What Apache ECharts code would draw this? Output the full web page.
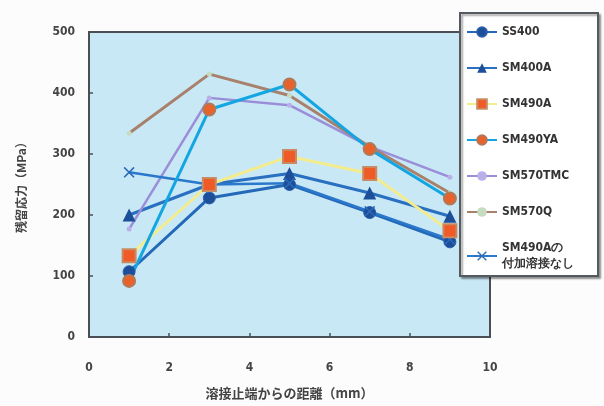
<!DOCTYPE html>
<html><head><meta charset="utf-8">
<script src="https://cdn.jsdelivr.net/npm/echarts@6/dist/echarts.min.js"></script>
<style>html,body{margin:0;padding:0;background:#fcfcfc}#c{width:604px;height:406px}</style>
</head><body><div id="c"></div>
<script>
const xValues = [1, 3, 5, 7, 9];
const xTicks = [0, 2, 4, 6, 8, 10];
const yTicks = [0, 100, 200, 300, 400, 500];
const seriesNames = ['SS400', 'SM400A', 'SM490A', 'SM490YA', 'SM570TMC', 'SM570Q', 'SM490Aの\n付加溶接なし'];
const ss400 = [107, 228, 250, 204, 156];
const sm400a = [200, 250, 268, 236, 198];
const sm490a = [133, 250, 296, 268, 174];
const sm490ya = [92, 373, 414, 308, 227];
const sm570tmc = [177, 392, 380, 312, 262];
const sm570q = [334, 431, 396, 312, 236];
const sm490aNoWeld = [270, 250, 252, 206, 160];

const pair = arr => xValues.map((x, i) => [x, arr[i]]);
const crossPath = 'path://M0,1L1,0L5,4L9,0L10,1L6,5L10,9L9,10L5,6L1,10L0,9L4,5Z';
const sansFont = "'DejaVu Sans Condensed', 'DejaVu Sans', sans-serif";

const chart = echarts.init(document.getElementById('c'), null, {renderer: 'canvas'});
const labelFont = {fontFamily: sansFont, fontWeight: 'bold', fontSize: 12, color: '#444'};
chart.setOption({
  backgroundColor: '#fcfcfc',
  animation: false,
  grid: {left: 89, top: 32, width: 401, height: 305, show: true, backgroundColor: '#c9e8f6', borderColor: '#4a4f55', borderWidth: 2},
  xAxis: {
    type: 'value', min: 0, max: 10, interval: 2,
    name: '溶接止端からの距離（mm）', nameLocation: 'middle', nameGap: 50,
    nameTextStyle: {fontFamily: 'Noto Sans CJK JP', fontWeight: 'bold', fontSize: 13, color: '#444'},
    axisLine: {lineStyle: {color: '#4a4f55', width: 2}},
    axisTick: {inside: true, length: 4, lineStyle: {color: '#4a4f55', width: 1.5}},
    axisLabel: Object.assign({margin: 25, formatter: v => xTicks.includes(v) ? String(v) : ''}, labelFont),
    splitLine: {show: false}
  },
  yAxis: {
    type: 'value', min: 0, max: 500, interval: 100,
    name: '残留応力（MPa）', nameLocation: 'middle', nameGap: 62, nameRotate: 90,
    nameTextStyle: {fontFamily: 'Noto Sans CJK JP', fontWeight: 'bold', fontSize: 12, color: '#444'},
    axisLine: {lineStyle: {color: '#4a4f55', width: 2}},
    axisTick: {inside: true, length: 4, lineStyle: {color: '#4a4f55', width: 1.5}},
    axisLabel: Object.assign({margin: 14, formatter: v => yTicks.includes(v) ? String(v) : ''}, labelFont),
    splitLine: {show: false}
  },
  legend: {
    orient: 'vertical', right: 6, top: 13, width: 130,
    backgroundColor: '#ffffff', borderColor: '#555a60', borderWidth: 2,
    shadowColor: 'rgba(0,0,0,0.35)', shadowOffsetX: 2, shadowOffsetY: 2, shadowBlur: 2,
    padding: [11, 24, 4, 6], itemGap: 20, itemWidth: 30, itemHeight: 12,
    textStyle: {fontFamily: sansFont, fontWeight: 'bold', fontSize: 12, color: '#333', lineHeight: 16},
    data: seriesNames
  },
  series: [
    {name: seriesNames[0], type: 'line', data: pair(ss400), symbol: 'circle', symbolSize: 12,
     lineStyle: {color: '#2468b8', width: 3}, itemStyle: {color: '#1d4e9a', borderColor: '#2a5fa8', borderWidth: 1}},
    {name: seriesNames[1], type: 'line', data: pair(sm400a), symbol: 'triangle', symbolSize: 13,
     lineStyle: {color: '#2a70c0', width: 3}, itemStyle: {color: '#1d4e9a'}},
    {name: seriesNames[4], type: 'line', data: pair(sm570tmc), symbol: 'circle', symbolSize: 5,
     lineStyle: {color: '#9a8ed8', width: 2.5}, itemStyle: {color: '#b9b0ea'}},
    {name: seriesNames[5], type: 'line', data: pair(sm570q), symbol: 'circle', symbolSize: 5,
     lineStyle: {color: '#a8816c', width: 3}, itemStyle: {color: '#c5dcc0'}},
    {name: seriesNames[6], type: 'line', data: pair(sm490aNoWeld), symbol: crossPath, symbolSize: 11,
     lineStyle: {color: '#2a78cc', width: 2.5}, itemStyle: {color: '#2a6ab8'}},
    {name: seriesNames[2], type: 'line', data: pair(sm490a), symbol: 'rect', symbolSize: 13,
     lineStyle: {color: '#f3ec8e', width: 3}, itemStyle: {color: '#f05a26', borderColor: '#c98a62', borderWidth: 2}},
    {name: seriesNames[3], type: 'line', data: pair(sm490ya), symbol: 'circle', symbolSize: 12,
     lineStyle: {color: '#14a6e2', width: 3}, itemStyle: {color: '#e8622c', borderColor: '#b07a58', borderWidth: 2}}
  ]
});
</script></body></html>
